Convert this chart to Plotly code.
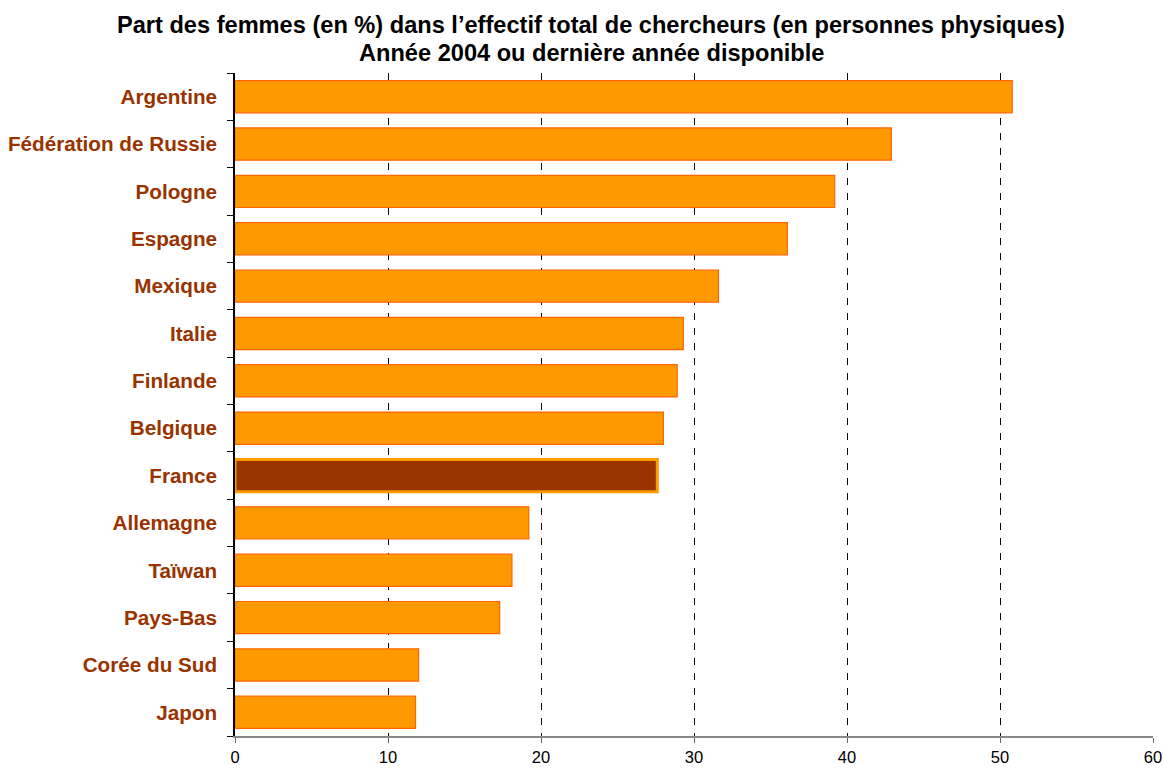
import plotly.graph_objects as go

countries = ["Argentine", "Fédération de Russie", "Pologne", "Espagne", "Mexique",
             "Italie", "Finlande", "Belgique", "France", "Allemagne", "Taïwan",
             "Pays-Bas", "Corée du Sud", "Japon"]
values = [50.8, 42.9, 39.2, 36.1, 31.6, 29.3, 28.9, 28.0, 27.6, 19.2, 18.1, 17.3, 12.0, 11.8]
x_ticks = [0, 10, 20, 30, 40, 50, 60]
title_lines = ["Part des femmes (en %) dans l’effectif total de chercheurs (en personnes physiques)",
               "Année 2004 ou dernière année disponible"]

highlight = "France"
fill = ["#993300" if c == highlight else "#FF9900" for c in countries]
edge = ["#FF9900" if c == highlight else "#FF6600" for c in countries]
edge_w = [3 if c == highlight else 1.2 for c in countries]

FONT = "Liberation Sans, Arial, sans-serif"

fig = go.Figure()
fig.add_trace(go.Bar(
    x=values, y=countries, orientation="h",
    marker=dict(color=fill, line=dict(color=edge, width=edge_w)),
    hoverinfo="x+y",
))

fig.update_layout(
    width=1163, height=769,
    margin=dict(l=235, r=10, t=73, b=33),
    plot_bgcolor="white", paper_bgcolor="white",
    bargap=0.32,
    showlegend=False,
    font=dict(family=FONT),
)
for i, (line, ypix) in enumerate(zip(title_lines, [24.5, 52.5])):
    fig.add_annotation(
        text=f"<b>{line}</b>", xref="paper", yref="paper",
        x=(591 - 235) / (1163 - 245), xanchor="center",
        y=1 + (73 - ypix) / (769 - 73 - 33), yanchor="middle",
        showarrow=False, font=dict(family=FONT, size=23.6, color="black"),
    )
fig.update_xaxes(
    range=[0, 60], tickvals=x_ticks, ticktext=[str(v) for v in x_ticks],
    showgrid=True, gridcolor="#000000", gridwidth=1, griddash="7px,8px",
    showline=True, linecolor="#888888", linewidth=1.5,
    ticks="outside", ticklen=5, tickcolor="#666666",
    tickfont=dict(size=16.5, color="black"),
    zeroline=False, layer="below traces", automargin=False,
)
fig.update_yaxes(
    categoryorder="array", categoryarray=countries, autorange="reversed",
    tickvals=countries, ticktext=[f"<b>{c}</b>" for c in countries],
    showline=True, linecolor="black", linewidth=1.5,
    ticks="outside", ticklen=6, tickcolor="black", tickson="boundaries",
    tickfont=dict(size=20.7, color="#993300"), ticklabelstandoff=12,
    showgrid=False, zeroline=False, automargin=False,
)

fig.write_html("out.html", config={"displayModeBar": False},
               post_script="document.body.style.margin='0';")
